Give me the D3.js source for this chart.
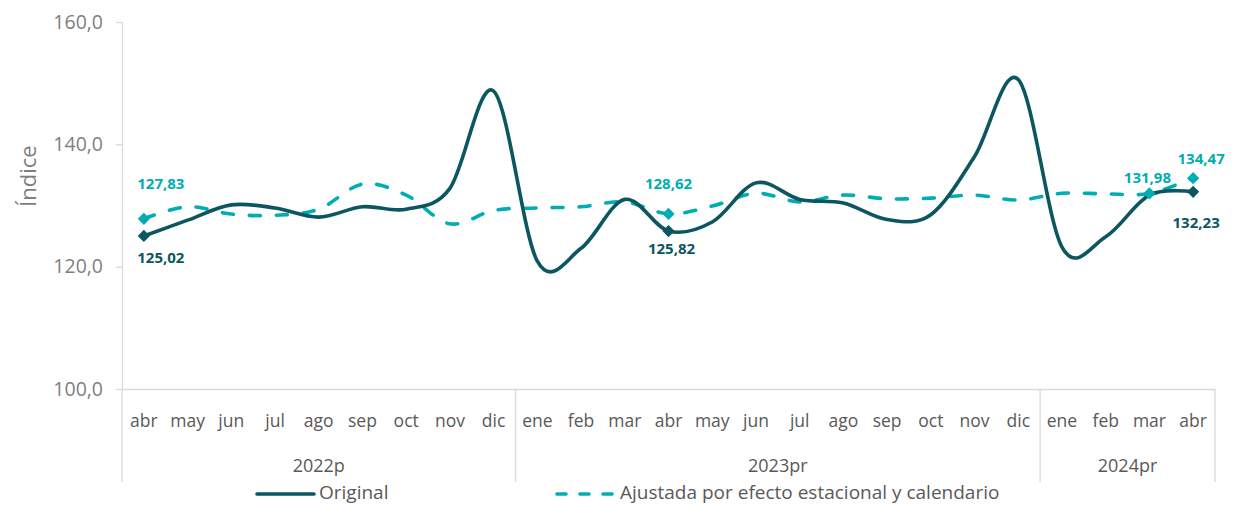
<!DOCTYPE html>
<html>
<head>
<meta charset="utf-8">
<script src="https://cdn.jsdelivr.net/npm/d3@7"></script>
<style>
  html, body { margin: 0; padding: 0; background: #fff; }
  #chart { width: 1234px; height: 508px; }
  text { font-family: "Open Sans", "Noto Sans", sans-serif; }
</style>
</head>
<body>
<div id="chart"></div>
<script>
const months = ['abr', 'may', 'jun', 'jul', 'ago', 'sep', 'oct', 'nov', 'dic',
    'ene', 'feb', 'mar', 'abr', 'may', 'jun', 'jul', 'ago', 'sep', 'oct', 'nov', 'dic',
    'ene', 'feb', 'mar', 'abr'];
const yearLabels = ['2022p', '2023pr', '2024pr'];
const monthsPerYear = [9, 12, 4];
const yTicks = [100, 120, 140, 160];

const original = [125.02, 127.6, 130.1, 129.6, 128.1, 129.8, 129.4, 132.8, 148.7,
    120.9, 123.0, 131.0, 125.82, 127.3, 133.7, 131.0, 130.4, 127.7, 128.5, 138.0, 150.6,
    123.2, 124.9, 131.7, 132.23];
const adjusted = [127.83, 129.8, 128.6, 128.4, 129.4, 133.5, 131.7, 127.0, 129.2,
    129.6, 129.8, 130.6, 128.62, 129.9, 132.0, 130.6, 131.7, 131.1, 131.2, 131.7, 130.9,
    132.0, 131.9, 131.98, 134.47];

// puntos con etiqueta
const originalLabelled = [0, 12, 24];
const adjustedLabelled = [0, 12, 23, 24];

(function () {
    'use strict';

    const W = 1234, H = 508;
    const margin = { top: 22, right: 19, bottom: 119, left: 122 };
    const width = W - margin.left - margin.right;
    const height = H - margin.top - margin.bottom;

    const darkColor = '#0b5660';
    const lightColor = '#00adb5';
    const axisColor = '#d9d9d9';
    const textColor = '#595959';

    const svg = d3.select('#chart').append('svg')
        .attr('width', W).attr('height', H)
        .append('g')
        .attr('transform', 'translate(' + margin.left + ',' + margin.top + ')');

    const xScale = d3.scaleBand().domain(d3.range(months.length)).range([0, width]).padding(0);
    const yScale = d3.scaleLinear().domain([100, 160]).range([height, 0]);
    const xc = function (i) { return xScale(i) + xScale.bandwidth() / 2; };

    // eje Y
    const yAxis = d3.axisLeft(yScale).tickValues(yTicks).tickSize(6).tickSizeOuter(0)
        .tickFormat(function (d) { return d3.format('.1f')(d).replace('.', ','); });
    const yG = svg.append('g').attr('class', 'yaxis').call(yAxis);
    yG.select('.domain').attr('stroke', axisColor).attr('stroke-width', 1.3);
    yG.selectAll('.tick line').attr('stroke', axisColor).attr('stroke-width', 1.3);
    yG.selectAll('.tick text').attr('x', -19).attr('fill', '#7f7f7f')
        .style('font-size', '19.5px');

    svg.append('text')
        .attr('transform', 'translate(' + (-94) + ',' + (height * 0.42) + ') rotate(-90)')
        .attr('text-anchor', 'middle').attr('dy', '0.35em')
        .attr('fill', '#7f7f7f').style('font-size', '22px')
        .text('Índice');

    // eje X
    const xAxis = d3.axisBottom(xScale).tickSize(0).tickFormat(function (i) { return months[i]; });
    const xG = svg.append('g').attr('class', 'xaxis')
        .attr('transform', 'translate(0,' + height + ')').call(xAxis);
    xG.select('.domain').attr('stroke', axisColor).attr('stroke-width', 1.3);
    xG.selectAll('.tick text').attr('y', 33).attr('dy', '0').attr('dominant-baseline', 'middle')
        .attr('fill', textColor).style('font-size', '17.5px');

    // separadores de año y etiquetas
    let start = 0;
    const bounds = [0];
    monthsPerYear.forEach(function (n, k) {
        const x0 = xScale(start);
        const x1 = start + n < months.length ? xScale(start + n) : width;
        svg.append('text')
            .attr('x', (x0 + x1) / 2).attr('y', height + 78)
            .attr('text-anchor', 'middle').attr('dominant-baseline', 'middle')
            .attr('fill', textColor).style('font-size', '18px')
            .text(yearLabels[k]);
        start += n;
        bounds.push(x1);
    });
    svg.selectAll('.sep').data(bounds).enter().append('line').attr('class', 'sep')
        .attr('x1', function (d) { return d; }).attr('x2', function (d) { return d; })
        .attr('y1', height).attr('y2', height + 93)
        .attr('stroke', axisColor).attr('stroke-width', 1.3);

    // líneas
    const line = function (values) {
        return d3.line()
            .x(function (d, i) { return xc(i); })
            .y(function (d) { return yScale(d); })
            .curve(d3.curveCardinal.tension(0))(values);
    };

    svg.append('path').attr('d', line(adjusted))
        .attr('fill', 'none').attr('stroke', lightColor).attr('stroke-width', 3.6)
        .attr('stroke-dasharray', '11,16').attr('stroke-linecap', 'round');

    svg.append('path').attr('d', line(original))
        .attr('fill', 'none').attr('stroke', darkColor).attr('stroke-width', 3.6)
        .attr('stroke-linecap', 'round');

    // marcadores
    const diamond = d3.symbol().type(d3.symbolDiamond2).size(95);
    const drawMarkers = function (values, idx, color) {
        svg.selectAll(null).data(idx).enter().append('path')
            .attr('d', diamond)
            .attr('transform', function (i) { return 'translate(' + xc(i) + ',' + yScale(values[i]) + ')'; })
            .attr('fill', color);
    };
    drawMarkers(adjusted, adjustedLabelled, lightColor);
    drawMarkers(original, originalLabelled, darkColor);

    // etiquetas de datos
    const labelOffsets = {
        adjusted: { 0: [17, -34], 12: [0, -29], 23: [-2, -14], 24: [8, -18] },
        original: { 0: [17, 23], 12: [3, 19], 24: [3, 32] }
    };
    const drawLabels = function (values, idx, color, offsets) {
        svg.selectAll(null).data(idx).enter().append('text')
            .attr('x', function (i) { return xc(i) + offsets[i][0]; })
            .attr('y', function (i) { return yScale(values[i]) + offsets[i][1]; })
            .attr('text-anchor', 'middle').attr('dominant-baseline', 'middle')
            .attr('fill', color).style('font-size', '15px').style('font-weight', 'bold')
            .text(function (i) { return d3.format('.2f')(values[i]).replace('.', ','); });
    };
    drawLabels(adjusted, adjustedLabelled, lightColor, labelOffsets.adjusted);
    drawLabels(original, originalLabelled, darkColor, labelOffsets.original);

    // leyenda
    const legend = d3.select('#chart svg').append('g').attr('transform', 'translate(0,494)');
    legend.append('line').attr('x1', 257).attr('x2', 314).attr('y1', 0).attr('y2', 0)
        .attr('stroke', darkColor).attr('stroke-width', 3.6).attr('stroke-linecap', 'round');
    legend.append('text').attr('x', 319).attr('y', 0).attr('dominant-baseline', 'middle')
        .attr('fill', textColor).style('font-size', '19px').text('Original');
    legend.append('line').attr('x1', 557).attr('x2', 616).attr('y1', 0).attr('y2', 0)
        .attr('stroke', lightColor).attr('stroke-width', 3.6).attr('stroke-linecap', 'round')
        .attr('stroke-dasharray', '9,14');
    legend.append('text').attr('x', 620).attr('y', 0).attr('dominant-baseline', 'middle')
        .attr('fill', textColor).style('font-size', '19px').text('Ajustada por efecto estacional y calendario');
}());
</script>
</body>
</html>
